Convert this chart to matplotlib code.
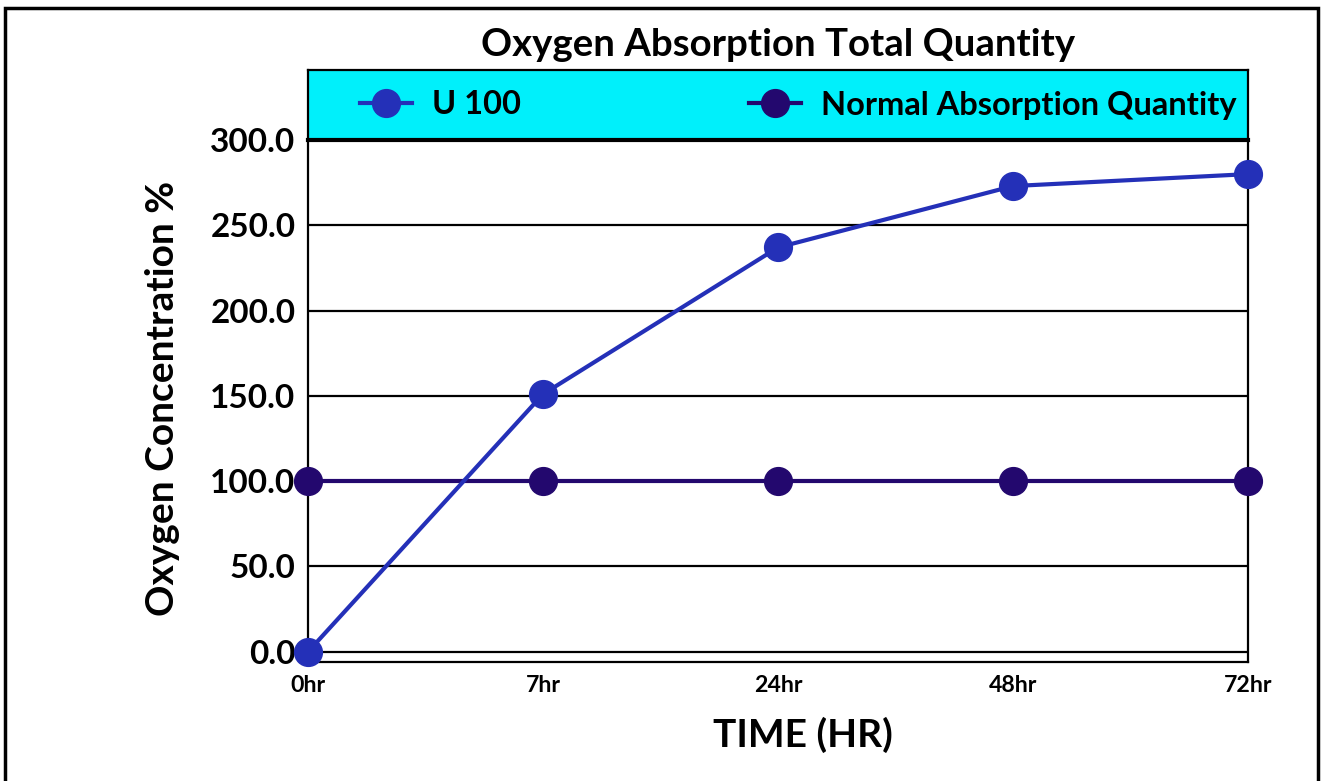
import matplotlib.pyplot as plt
from matplotlib.patches import Rectangle

# datos
times = ["0hr", "7hr", "24hr", "48hr", "72hr"]
u100 = [0, 151, 237, 273, 280]
normal = [100, 100, 100, 100, 100]
y_ticks = [0, 50, 100, 150, 200, 250, 300]

plt.rcParams['font.family'] = ['Lato', 'DejaVu Sans']
plt.rcParams['font.weight'] = 'bold'
WT = 'bold'

W, H = 1324, 781
fig = plt.figure(figsize=(W / 100, H / 100), dpi=100)

# area del grafico (en pixeles -> fraccion)
left, right, top, bottom = 308, 1248, 140, 662
ax = fig.add_axes([left / W, 1 - bottom / H, (right - left) / W, (bottom - top) / H])

x = list(range(len(times)))
ax.plot(x, u100, color='#2430b8', lw=3, marker='o', ms=20, label='U 100',
        clip_on=False, zorder=4)
ax.plot(x, normal, color='#23086e', lw=3, marker='o', ms=20,
        label='Normal Absorption Quantity', clip_on=False, zorder=3)

ax.set_xlim(0, len(times) - 1)
ax.set_ylim(-6, 300)
ax.set_xticks(x)
ax.set_xticklabels(times, fontsize=16.7, fontweight=WT)
ax.set_yticks(y_ticks)
ax.set_yticklabels([f"{v:.1f}" for v in y_ticks], fontsize=24, fontweight=WT)
ax.tick_params(axis='both', length=0)
ax.tick_params(axis='x', pad=9)
ax.tick_params(axis='y', pad=9)
ax.yaxis.grid(True, color='black', lw=1.6)
ax.set_axisbelow(True)
for s in ax.spines.values():
    s.set_color('black')
    s.set_linewidth(1.6)

ax.set_xlabel('TIME (HR)', fontsize=28, fontweight=WT)
ax.xaxis.set_label_coords(0.527, -0.105)
ax.set_ylabel('Oxygen Concentration %', fontsize=28, fontweight=WT)
ax.yaxis.set_label_coords(-0.136, 0.505)

# caja de la leyenda (cyan)
lax = fig.add_axes([left / W, 1 - top / H, (right - left) / W, (top - 70) / H])
lax.set_facecolor('#00f0fb')
lax.set_xticks([])
lax.set_yticks([])
for s in lax.spines.values():
    s.set_color('black')
    s.set_linewidth(1.6)
lax.spines['bottom'].set_linewidth(3)
h, l = ax.get_legend_handles_labels()
lax.legend(h, l, loc='center left', bbox_to_anchor=(0.055, 0.5), ncol=2, frameon=False,
           borderpad=0, borderaxespad=0, markerscale=1.0, handlelength=1.6,
           handletextpad=0.6, columnspacing=7.0,
           prop={'weight': WT, 'size': 23.5})

fig.text(0.588, 1 - 45 / H, 'Oxygen Absorption Total Quantity', ha='center', va='center',
         fontsize=27.6, fontweight=WT)

# marco exterior
fig.patches.append(Rectangle((5 / W, -0.05), (1318 - 5) / W, 1.05 - 8 / H,
                             transform=fig.transFigure, fill=False, ec='black', lw=2.5))

fig.savefig('out.png', dpi=100)
